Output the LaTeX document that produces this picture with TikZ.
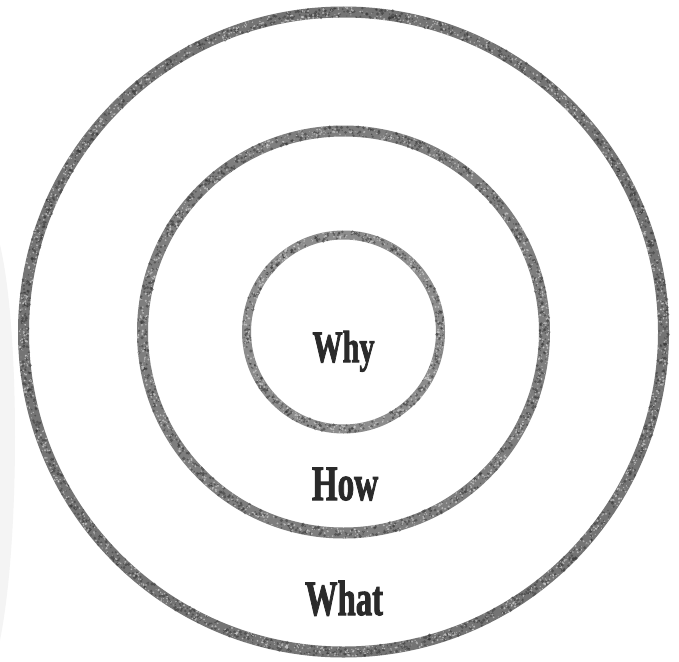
\documentclass[tikz,border=0pt]{standalone}
\usepackage{graphicx}
\usepackage{fontspec}
\setmainfont{Liberation Serif}
\newfontfamily\heavyfont{Liberation Serif Bold}[FakeBold=2.2]
\definecolor{ringA}{HTML}{747474}
\definecolor{ringB}{HTML}{7E7E7E}
\definecolor{ringC}{HTML}{8C8C8C}
\definecolor{ringdark}{HTML}{333333}
\definecolor{ringlight}{HTML}{D4D4D4}
\definecolor{textdark}{HTML}{2A2A2A}
\definecolor{ghost}{HTML}{F4F4F4}
\begin{document}
\begin{tikzpicture}[x=1pt,y=-1pt]
\tikzset{
  ring/.style={circle, inner sep=0pt, fill=none},
  lbl/.style={text=textdark, inner sep=0pt, anchor=base},
}
\useasboundingbox (0,0) rectangle (679,661);
\fill[white] (0,0) rectangle (679,661);
% faint ghost at the left edge
\fill[ghost] (0,245) .. controls (20,330) and (20,540) .. (0,640) -- cycle;
\coordinate (c) at (343.5,332);
\node[ring, draw=ringA, line width=11pt, minimum size=640pt] (outer) at (c) {};
\node[ring, draw=ringB, line width=11pt, minimum size=402pt] (middle) at (c) {};
\node[ring, draw=ringC, line width=9pt, minimum size=194pt] (inner) at (c) {};
% grunge texture on the rings
\pgfmathsetseed{11}
\foreach \r/\w/\n in {320/10/1400, 201/10/850, 97/8/380} {
  \foreach \k in {1,...,\n} {
    \pgfmathsetmacro{\a}{360*rnd}
    \pgfmathsetmacro{\d}{\r+(rnd-0.5)*\w}
    \pgfmathsetmacro{\s}{0.6+1.2*rnd}
    \fill[ringdark, opacity=0.5] (c) ++(\a:\d) circle (\s);
  }
  \foreach \k in {1,...,\n} {
    \pgfmathsetmacro{\a}{360*rnd}
    \pgfmathsetmacro{\d}{\r+(rnd-0.5)*\w}
    \pgfmathsetmacro{\s}{0.4+0.8*rnd}
    \fill[ringlight, opacity=0.65] (c) ++(\a:\d) circle (\s);
  }
}
\node[lbl, font=\fontsize{45}{45}\heavyfont] (why) at (343.5,362) {\scalebox{0.67}[1]{Why}};
\node[lbl, font=\fontsize{49.5}{50}\heavyfont] (how) at (345,500) {\scalebox{0.67}[1]{How}};
\node[lbl, font=\fontsize{49.5}{50}\heavyfont] (what) at (344,615) {\scalebox{0.66}[1]{What}};
\end{tikzpicture}
\end{document}
